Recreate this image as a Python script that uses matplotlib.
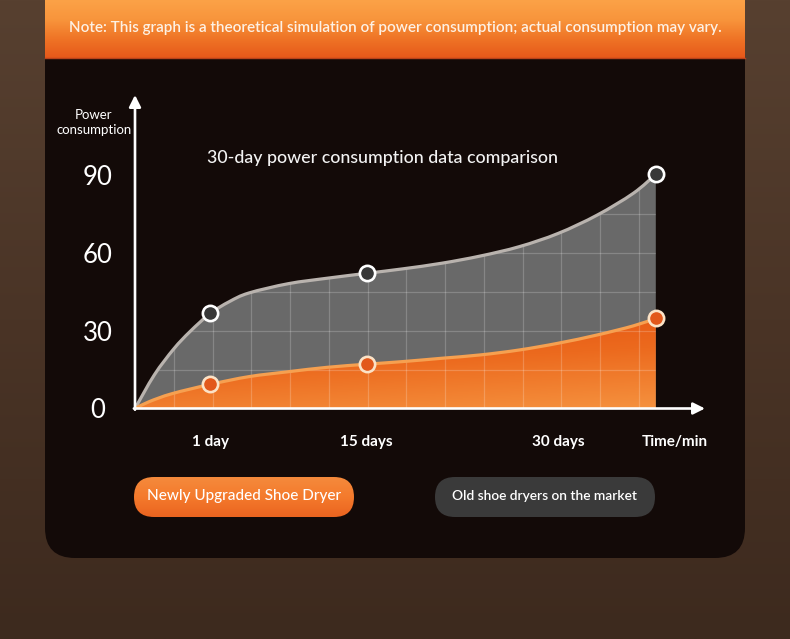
import matplotlib
matplotlib.use("Agg")
import matplotlib.pyplot as plt
import numpy as np
from matplotlib.path import Path
from matplotlib.patches import PathPatch, FancyBboxPatch
from matplotlib.colors import LinearSegmentedColormap

plt.rcParams['font.family'] = ['Lato', 'DejaVu Sans']

# curve readings (x in background-grid columns, y in power units)
grey_x = [0, 0.5, 1.0, 1.42, 1.94, 2.44, 2.94, 3.96, 4.96, 5.98, 6.9, 7.92, 8.92, 9.92, 10.92, 11.93, 12.86, 13.44]
grey_y = [0, 13.0, 23.0, 29.7, 36.7, 41.3, 44.6, 48.2, 50.3, 52.2, 53.9, 56.1, 58.9, 62.5, 67.6, 74.7, 83.1, 90.4]
orange_x = [0, 0.36, 0.95, 1.94, 2.94, 3.96, 4.96, 5.98, 6.9, 7.92, 8.92, 9.92, 10.92, 11.93, 12.86, 13.44]
orange_y = [0, 2.6, 5.7, 9.3, 12.3, 14.2, 15.9, 17.1, 18.1, 19.4, 20.7, 22.6, 25.2, 28.4, 31.9, 34.8]

# highlighted points
key_x = [1.94, 5.98, 13.44]
grey_key = [36.7, 52.2, 90.4]
orange_key = [9.3, 17.1, 34.8]

y_ticks = [0, 30, 60, 90]
x_tick_pos = [1.94, 5.98, 10.92]
x_tick_labels = ["1 day", "15 days", "30 days"]

title = "30-day power consumption data comparison"
note = "Note: This graph is a theoretical simulation of power consumption; actual consumption may vary."
legend_new = "Newly Upgraded Shoe Dryer"
legend_old = "Old shoe dryers on the market"


def smooth(xs, ys):
    pts = np.column_stack([xs, ys]).astype(float)
    n = len(pts)
    verts = [pts[0]]
    codes = [Path.MOVETO]
    for i in range(n - 1):
        p0 = pts[max(i - 1, 0)]
        p1 = pts[i]
        p2 = pts[i + 1]
        p3 = pts[min(i + 2, n - 1)]
        verts += [p1 + (p2 - p0) / 6, p2 - (p3 - p1) / 6, p2]
        codes += [Path.CURVE4] * 3
    return verts, codes


def area(xs, ys):
    v, c = smooth(xs, ys)
    v = v + [(xs[-1], 0), (xs[0], 0), (xs[0], 0)]
    c = c + [Path.LINETO, Path.LINETO, Path.CLOSEPOLY]
    return Path(v, c)


W, H = 790, 639
fig = plt.figure(figsize=(W / 100, H / 100), dpi=100)

# ---- background / decoration in pixel coordinates
bg = fig.add_axes([0, 0, 1, 1])
bg.set_xlim(0, W)
bg.set_ylim(H, 0)
bg.axis('off')

bg_cmap = LinearSegmentedColormap.from_list('bg', ['#574030', '#4a3426', '#3d2a1e'])
bg.imshow(np.linspace(0, 1, 256).reshape(-1, 1), cmap=bg_cmap, aspect='auto',
          extent=(0, W, H, 0), origin='upper', zorder=0)

panel = FancyBboxPatch((45, -40), 700, 598, boxstyle="round,pad=0,rounding_size=30",
                       fc='#130a08', ec='none', zorder=1)
bg.add_patch(panel)

banner_cmap = LinearSegmentedColormap.from_list('ban', ['#fca247', '#f8953c', '#ef7426', '#e6581a'])
bg.imshow(np.linspace(0, 1, 256).reshape(-1, 1), cmap=banner_cmap, aspect='auto',
          extent=(45, 745, 58, 0), origin='upper', zorder=2)
bg.plot([45, 745], [58, 58], color='#b8421a', lw=1, zorder=3)
bg.text(395, 28, note, color='#fdf1e4', fontsize=11, fontweight='semibold',
        ha='center', va='center', zorder=4)

# y label and x-axis name
bg.text(94, 115, "Power", color='white', fontsize=9.5, ha='center', va='center', zorder=4)
bg.text(94, 130, "consumption", color='white', fontsize=9.5, ha='center', va='center', zorder=4)
bg.text(675, 442, "Time/min", color='white', fontsize=11, fontweight='bold', ha='center', va='center', zorder=4)

# legend pills
pill_new = FancyBboxPatch((134, 477), 220, 40, boxstyle="round,pad=0,rounding_size=20",
                          fc='none', ec='none', zorder=3)
bg.add_patch(pill_new)
pill_cmap = LinearSegmentedColormap.from_list('pill', ['#f58a3c', '#f47a2c', '#ea6420'])
im = bg.imshow(np.linspace(0, 1, 64).reshape(-1, 1), cmap=pill_cmap, aspect='auto',
               extent=(134, 354, 517, 477), origin='upper', zorder=3)
im.set_clip_path(pill_new)
bg.text(244, 496, legend_new, color='white', fontsize=11, fontweight='medium',
        ha='center', va='center', zorder=4)

pill_old = FancyBboxPatch((435, 477), 220, 40, boxstyle="round,pad=0,rounding_size=20",
                          fc='#3a3a3a', ec='none', zorder=3)
bg.add_patch(pill_old)
bg.text(545, 496, legend_old, color='white', fontsize=9.9, fontweight='semibold',
        ha='center', va='center', zorder=4)

# ---- chart axes
x0, x1 = 135, 705
y0, y1 = 408.5, 95
ax = fig.add_axes([x0 / W, (H - y0) / H, (x1 - x0) / W, (y0 - y1) / H])
ax.set_facecolor('none')
xmax = (x1 - x0) / 38.75
ymax = (y0 - y1) / 2.59

grey_path = area(grey_x, grey_y)
grey_fill = PathPatch(grey_path, fc='#696969', ec='none', zorder=2)
ax.add_patch(grey_fill)

orange_path = area(orange_x, orange_y)
orange_clip = PathPatch(orange_path, fc='none', ec='none')
ax.add_patch(orange_clip)
yy, xx = np.mgrid[0:1:100j, 0:1:100j]
grad = 0.75 * yy + 0.25 * xx
or_cmap = LinearSegmentedColormap.from_list('or', ['#e4500f', '#ec6a1e', '#f5913e'])
oim = ax.imshow(grad, cmap=or_cmap, aspect='auto', origin='upper',
                extent=(0, orange_x[-1], 0, max(orange_y)), zorder=3)
oim.set_clip_path(orange_clip)

# background grid inside the filled area
vl = ax.vlines(np.arange(1, 14), 0, 100, color='white', alpha=0.2, lw=0.9, zorder=4)
hl = ax.hlines(np.arange(15, 100, 15), 0, xmax, color='white', alpha=0.2, lw=0.9, zorder=4)
vl.set_clip_path(grey_fill)
hl.set_clip_path(grey_fill)

gv, gc = smooth(grey_x, grey_y)
ax.add_patch(PathPatch(Path(gv, gc), fc='none', ec='#b9b3ae', lw=2.3, zorder=5, capstyle='round'))
ov, oc = smooth(orange_x, orange_y)
ax.add_patch(PathPatch(Path(ov, oc), fc='none', ec='#f6a050', lw=2.3, zorder=5, capstyle='round'))

ax.plot(key_x, grey_key, 'o', ms=11, mfc='#383838', mec='white', mew=1.9, zorder=6, clip_on=False)
ax.plot(key_x, orange_key, 'o', ms=11, mfc='#e2581b', mec='#fbe2c6', mew=1.9, zorder=6, clip_on=False)

ax.set_xlim(0, xmax)
ax.set_ylim(0, ymax)
for s in ax.spines.values():
    s.set_visible(False)

# axis arrows
ax.annotate('', xy=(0, 1), xytext=(0, -0.004), xycoords='axes fraction',
            arrowprops=dict(arrowstyle='-|>,head_length=0.7,head_width=0.35', color='white', lw=1.9,
                            shrinkA=0, shrinkB=0), zorder=7)
ax.annotate('', xy=(1, 0), xytext=(-0.002, 0), xycoords='axes fraction',
            arrowprops=dict(arrowstyle='-|>,head_length=0.7,head_width=0.35', color='white', lw=1.9,
                            shrinkA=0, shrinkB=0), zorder=7)

ax.set_yticks(y_ticks)
ax.set_yticklabels([str(v) for v in y_ticks], fontsize=18.5, color='white', fontweight='normal')
ax.tick_params(axis='y', length=0, pad=27)
for lab in ax.get_yticklabels():
    lab.set_ha('center')

ax.set_xticks(x_tick_pos)
ax.set_xticklabels(x_tick_labels, fontsize=11, color='white', fontweight='bold')
ax.tick_params(axis='x', length=0, pad=19)

ax.text(0.435, (y0 - 158) / (y0 - y1), title, transform=ax.transAxes, color='#f3f3f3',
        fontsize=12.8, fontweight='medium', ha='center', va='center')

fig.savefig('out.png', dpi=100)
